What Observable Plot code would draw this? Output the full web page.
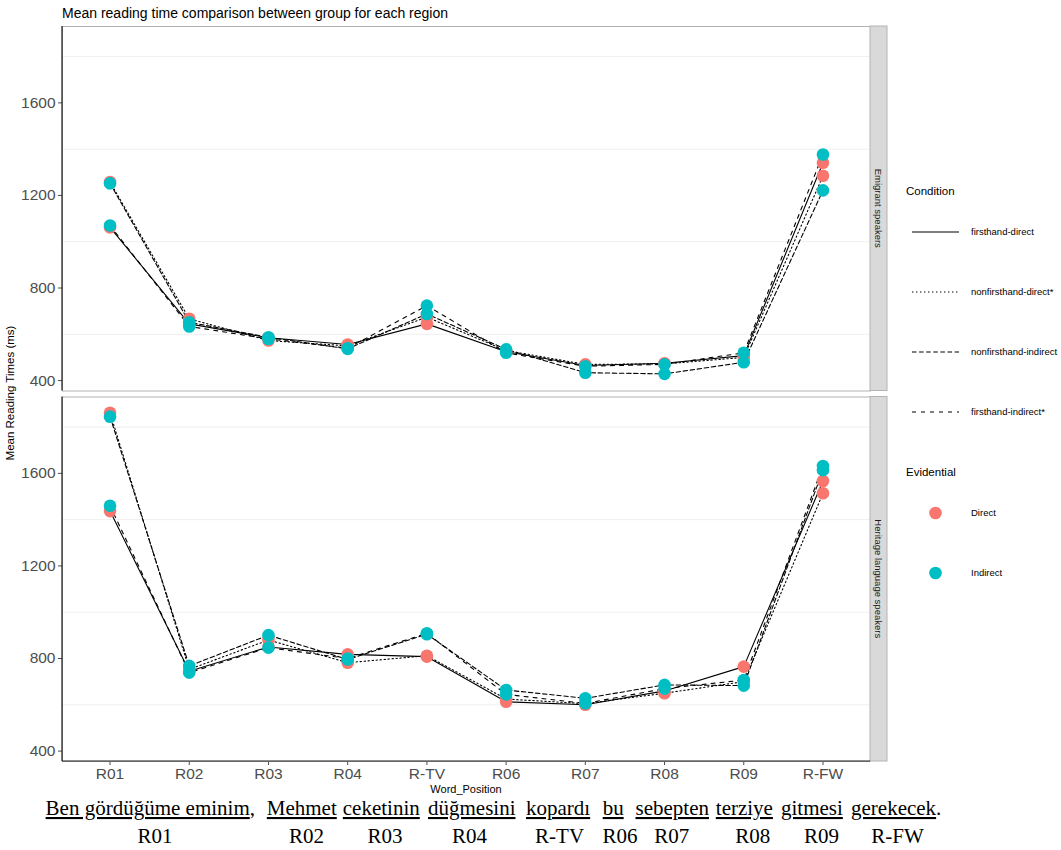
<!DOCTYPE html>
<html><head><meta charset="utf-8">
<script src="https://cdn.jsdelivr.net/npm/d3@7"></script>
<script src="https://cdn.jsdelivr.net/npm/@observablehq/plot@0.6"></script>
<style>
body{margin:0;background:#fff;}
#wrap{position:relative;width:1061px;height:850px;overflow:hidden;background:#fff;font-family:"Liberation Sans",Arial,sans-serif;}
#plot{position:absolute;left:0;top:20px;}
#overlay{position:absolute;left:0;top:0;pointer-events:none;}
</style></head><body>
<div id="wrap"><div id="plot"></div><svg id="overlay" width="1061" height="850"></svg></div>
<script>
// ---------- data ----------
const regions = ["R01","R02","R03","R04","R-TV","R06","R07","R08","R09","R-FW"];
const groups = ["Emigrant speakers","Heritage language speakers"];
const conditions = ["firsthand-direct","nonfirsthand-direct*","nonfirsthand-indirect","firsthand-indirect*"];
const conditionEvidential = ["Direct","Direct","Indirect","Indirect"];
const evidentials = ["Direct","Indirect"];

// Emigrant speakers (ms)
const emigrantFirsthandDirect      = [1062, 645, 585, 556, 645, 525, 465, 475, 508, 1341];
const emigrantNonfirsthandDirect   = [1258, 667, 573, 550, 674, 530, 470, 472, 500, 1285];
const emigrantNonfirsthandIndirect = [1252, 652, 587, 537, 688, 535, 434, 429, 479, 1222];
const emigrantFirsthandIndirect    = [1070, 634, 580, 540, 724, 520, 462, 470, 520, 1377];
// Heritage language speakers (ms)
const heritageFirsthandDirect      = [1437, 745, 850, 818, 808, 613, 600, 660, 765, 1567];
const heritageNonfirsthandDirect   = [1862, 753, 880, 782, 812, 625, 605, 650, 700, 1514];
const heritageNonfirsthandIndirect = [1845, 768, 901, 796, 905, 664, 628, 686, 683, 1614];
const heritageFirsthandIndirect    = [1460, 739, 847, 800, 909, 645, 606, 670, 707, 1632];

const yTicks = [400, 800, 1200, 1600];
const yMinorGrid = [600, 1000, 1400, 1800];

const sentenceWords = ["Ben gördüğüme eminim", "Mehmet", "ceketinin", "düğmesini", "kopardı", "bu", "sebepten", "terziye", "gitmesi", "gerekecek"];
const sentencePunct = [",", "", "", "", "", "", "", "", "", "."];
const sentenceRegions = ["R01","R02","R03","R04","R-TV","R06","R07","R08","R09","R-FW"];

// ---------- styles / layout ----------
const dashes = ["none", "1.4,2.6", "4.5,2.6", "4,5"];
const colors = ["#F8766D", "#00BFC4"];
const wordX = [45.6, 266.8, 342.8, 428, 526, 602.7, 635.5, 715.8, 781, 851];
const regionLabelX = [155, 306.6, 385, 469.4, 559.6, 620, 671.7, 752.7, 821.6, 897.5];

const series = [
  [emigrantFirsthandDirect, emigrantNonfirsthandDirect, emigrantNonfirsthandIndirect, emigrantFirsthandIndirect],
  [heritageFirsthandDirect, heritageNonfirsthandDirect, heritageNonfirsthandIndirect, heritageFirsthandIndirect]
];
const rows = [];
groups.forEach((g, gi) => conditions.forEach((c, ci) => regions.forEach((r, ri) => {
  rows.push({group: g, condition: c, evidential: conditionEvidential[ci], region: r, value: series[gi][ci][ri]});
})));
const dotRows = rows.filter(d => d.evidential === "Direct").concat(rows.filter(d => d.evidential === "Indirect"));

const TOP = 20;
const chart = Plot.plot({
  width: 890, height: 780,
  marginLeft: 62, marginRight: 20, marginTop: 6, marginBottom: 39,
  style: {fontFamily: "'Liberation Sans', Arial, sans-serif", fontSize: "15.5px", color: "#4d4d4d", background: "transparent", overflow: "visible"},
  x: {type: "point", domain: regions, padding: 0.6, round: false, tickSize: 4, tickPadding: 2, label: null},
  y: {domain: [355, 1930], ticks: yTicks, tickFormat: d => String(d), tickSize: 4, tickPadding: 3, label: null},
  fy: {domain: groups, paddingInner: 0.0162, paddingOuter: 0, round: false, axis: null, label: null},
  color: {domain: evidentials, range: colors},
  marks: [
    Plot.ruleY(yMinorGrid, {stroke: "#efefef", strokeWidth: 1}),
    Plot.frame({stroke: "#b3b3b3", strokeWidth: 1}),
    ...conditions.map((c, ci) => Plot.line(rows.filter(d => d.condition === c), {
      x: "region", y: "value", fy: "group", stroke: "#000", strokeWidth: 1.1, strokeDasharray: dashes[ci]
    })),
    Plot.dot(dotRows, {x: "region", y: "value", fy: "group", fill: "evidential", r: 6.3})
  ]
});
document.getElementById("plot").appendChild(chart);

// ---------- overlay ----------
const ov = d3.select("#overlay");
const xs = chart.scale("x"), fys = chart.scale("fy");
const x0 = xs.range[0], x1 = xs.range[1];
const bw = fys.bandwidth;
const font = "'Liberation Sans', Arial, sans-serif";

groups.forEach((g, gi) => {
  const top = TOP + fys.apply(g), bot = top + bw;
  ov.append("rect").attr("x", x1).attr("y", top).attr("width", 17).attr("height", bw)
    .attr("fill", "#d9d9d9").attr("stroke", "#b3b3b3").attr("stroke-width", 1);
  ov.append("text").attr("transform", `translate(${x1 + 8.5},${top + bw / 2}) rotate(90)`)
    .attr("text-anchor", "middle").attr("dy", "0.35em").attr("font-family", font)
    .attr("font-size", 9.5).attr("fill", "#1a1a1a").text(g);
  ov.append("line").attr("x1", x0).attr("x2", x0).attr("y1", top).attr("y2", bot)
    .attr("stroke", "#1a1a1a").attr("stroke-width", 1.2);
  if (gi === groups.length - 1) {
    ov.append("line").attr("x1", x0).attr("x2", x1).attr("y1", bot).attr("y2", bot)
      .attr("stroke", "#1a1a1a").attr("stroke-width", 1.2);
  }
});

ov.append("text").attr("x", 62).attr("y", 17.5).attr("font-family", font).attr("font-size", 14)
  .attr("fill", "#000").text("Mean reading time comparison between group for each region");
ov.append("text").attr("transform", "translate(14,393) rotate(-90)").attr("text-anchor", "middle")
  .attr("font-family", font).attr("font-size", 11.5).attr("fill", "#000").text("Mean Reading Times (ms)");
ov.append("text").attr("x", (x0 + x1) / 2).attr("y", 793).attr("text-anchor", "middle")
  .attr("font-family", font).attr("font-size", 11).attr("fill", "#000").text("Word_Position");

ov.append("text").attr("x", 906).attr("y", 194.5).attr("font-family", font).attr("font-size", 11.5)
  .attr("fill", "#000").text("Condition");
const condY = [232, 292, 352, 412];
conditions.forEach((c, ci) => {
  ov.append("line").attr("x1", 912).attr("x2", 959).attr("y1", condY[ci]).attr("y2", condY[ci])
    .attr("stroke", "#000").attr("stroke-width", 1.1).attr("stroke-dasharray", dashes[ci]);
  ov.append("text").attr("x", 971).attr("y", condY[ci] + 3.4).attr("font-family", font)
    .attr("font-size", 9.5).attr("fill", "#000").text(c);
});
ov.append("text").attr("x", 906).attr("y", 475.5).attr("font-family", font).attr("font-size", 11.5)
  .attr("fill", "#000").text("Evidential");
const evY = [513, 573];
evidentials.forEach((e, ei) => {
  ov.append("circle").attr("cx", 935.5).attr("cy", evY[ei]).attr("r", 6.3).attr("fill", colors[ei]);
  ov.append("text").attr("x", 971).attr("y", evY[ei] + 3.4).attr("font-family", font)
    .attr("font-size", 9.5).attr("fill", "#000").text(e);
});

const serif = "'Liberation Serif', 'Times New Roman', serif";
sentenceWords.forEach((w, i) => {
  const t = ov.append("text").attr("x", wordX[i]).attr("y", 815).attr("font-family", serif)
    .attr("font-size", 21).attr("fill", "#000");
  t.append("tspan").attr("text-decoration", "underline").style("text-decoration", "underline").text(w);
  if (sentencePunct[i]) t.append("tspan").text(sentencePunct[i]);
});
sentenceRegions.forEach((r, i) => {
  ov.append("text").attr("x", regionLabelX[i]).attr("y", 843).attr("text-anchor", "middle")
    .attr("font-family", serif).attr("font-size", 21).attr("fill", "#000").text(r);
});
</script>
</body></html>
